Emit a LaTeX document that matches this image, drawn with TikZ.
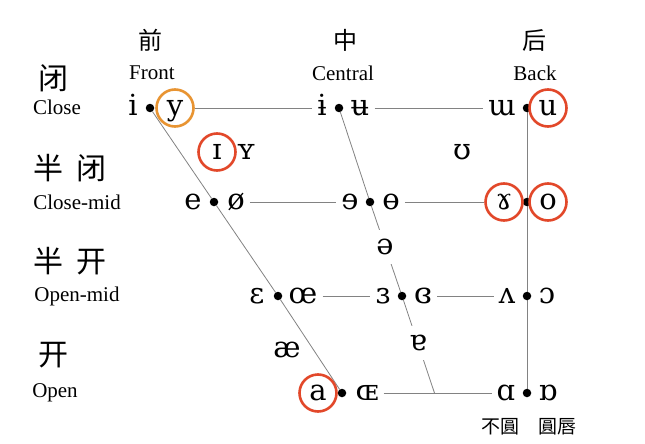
\documentclass[tikz,border=0pt]{standalone}
\usepackage{fontspec}
\setmainfont{Liberation Serif}
\newfontfamily\ipa{DejaVu Serif}
\newfontfamily\cjk{Noto Sans CJK SC}
\usetikzlibrary{backgrounds}
\definecolor{ringred}{RGB}{226,72,42}
\definecolor{ringorange}{RGB}{232,148,50}
\definecolor{linegray}{RGB}{130,130,130}
\begin{document}
\begin{tikzpicture}[x=1pt,y=-1pt,
  vow/.style={font=\ipa\fontsize{29}{31}\selectfont, text height=14pt, text depth=0pt, inner xsep=5pt, inner ysep=2pt},
  vowgap/.style={vow, fill=white, inner xsep=4pt, inner ysep=10pt},
  ring/.style={vow, circle, draw=ringred, line width=2.6pt, minimum size=37pt, inner sep=0pt, fill=white},
  ringo/.style={ring, draw=ringorange},
  dotn/.style={circle, fill=black, inner sep=0pt, minimum size=8.5pt},
  lab/.style={font=\fontsize{21}{23}\selectfont},
  cjbig/.style={font=\cjk\fontsize{30}{32}\selectfont},
  cjtop/.style={font=\cjk\fontsize{24}{26}\selectfont},
  cjsmall/.style={font=\cjk\fontsize{19}{21}\selectfont},
  ln/.style={draw=linegray, line width=0.8pt}]
\useasboundingbox (0,0) rectangle (645,444);

% column labels
\node[cjtop] (qian) at (150,40) {前};
\node[cjtop] (zhong) at (345,40) {中};
\node[cjtop] (hou) at (534,40) {后};
\node[lab] (front) at (152,73) {Front};
\node[lab] (central) at (343,73) {Central};
\node[lab] (back) at (535,73) {Back};

% row labels
\node[cjbig] (bi) at (53,78) {闭};
\node[lab] (close) at (57,107) {Close};
\node[cjbig] (banbi) at (70,168) {半\hspace{14pt}闭};
\node[lab] (closemid) at (77,202) {Close-mid};
\node[cjbig] (bankai) at (70,261) {半\hspace{14pt}开};
\node[lab] (openmid) at (77,296) {Open-mid};
\node[cjbig] (kai) at (53,355) {开};
\node[lab] (open) at (55,393) {Open};

% dots
\node[dotn] (d11) at (150,108) {};
\node[dotn] (d12) at (339,108) {};
\node[dotn] (d13) at (527,108) {};
\node[dotn] (d21) at (214,202) {};
\node[dotn] (d22) at (370,202) {};
\node[dotn] (d23) at (527,202) {};
\node[dotn] (d31) at (278,296) {};
\node[dotn] (d32) at (402,296) {};
\node[dotn] (d33) at (527,296) {};
\node[dotn] (d41) at (342,393) {};
\coordinate (d42) at (434.5,393);
\node[dotn] (d43) at (527,393) {};

% close
\node[vow] (iF) at (133,108) {i};
\node[ringo] (yF) at (175,108) {y};
\node[vow] (ibar) at (322,108) {ɨ};
\node[vow] (ubar) at (360,108) {ʉ};
\node[vow] (turnm) at (502,108) {ɯ};
\node[ring] (uB) at (548,108) {u};
% near-close
\node[ring] (smallI) at (217,152) {ɪ};
\node[vow] (smallY) at (246,152) {ʏ};
\node[vow] (upsilon) at (462,152) {ʊ};
% close-mid
\node[vow] (eF) at (193,202) {e};
\node[vow] (oslash) at (236,202) {ø};
\node[vow] (revE) at (350,202) {ɘ};
\node[vow] (barO) at (391,202) {ɵ};
\node[ring] (ramshorn) at (504,202) {ɤ};
\node[ring] (oB) at (548,202) {o};
% mid
\node[vowgap] (schwa) at (385,247) {ə};
% open-mid
\node[vow] (eps) at (257,296) {ɛ};
\node[vow] (oe) at (303,296) {œ};
\node[vow] (revEps) at (383,296) {ɜ};
\node[vow] (closedRevEps) at (423,296) {ɞ};
\node[vow] (turnV) at (507,296) {ʌ};
\node[vow] (openO) at (547,296) {ɔ};
% near-open
\node[vow] (ae) at (287,350) {æ};
\node[vowgap] (turnA) at (418,343) {ɐ};
% open
\node[ring] (aF) at (318,393) {a};
\node[vow] (OE) at (367,393) {ɶ};
\node[vow] (scriptA) at (506,393) {ɑ};
\node[vow] (turnScriptA) at (548,393) {ɒ};

% rounding labels
\node[cjsmall] (buyuan) at (500,427) {不圓};
\node[cjsmall] (yuanchun) at (557,427) {圓唇};

\begin{scope}[on background layer]
  \draw[ln] (d11) -- (d21) -- (d31) -- (d41);
  \draw[ln] (d12) -- (d22) -- (d32) -- (d42);
  \draw[ln] (d13) -- (d43);
\end{scope}
\draw[ln] (yF) -- (ibar);
\draw[ln] (ubar) -- (turnm);
\draw[ln] (oslash) -- (revE);
\draw[ln] (barO) -- (ramshorn);
\draw[ln] (oe) -- (revEps);
\draw[ln] (closedRevEps) -- (turnV);
\draw[ln] (OE) -- (scriptA);
\end{tikzpicture}
\end{document}
